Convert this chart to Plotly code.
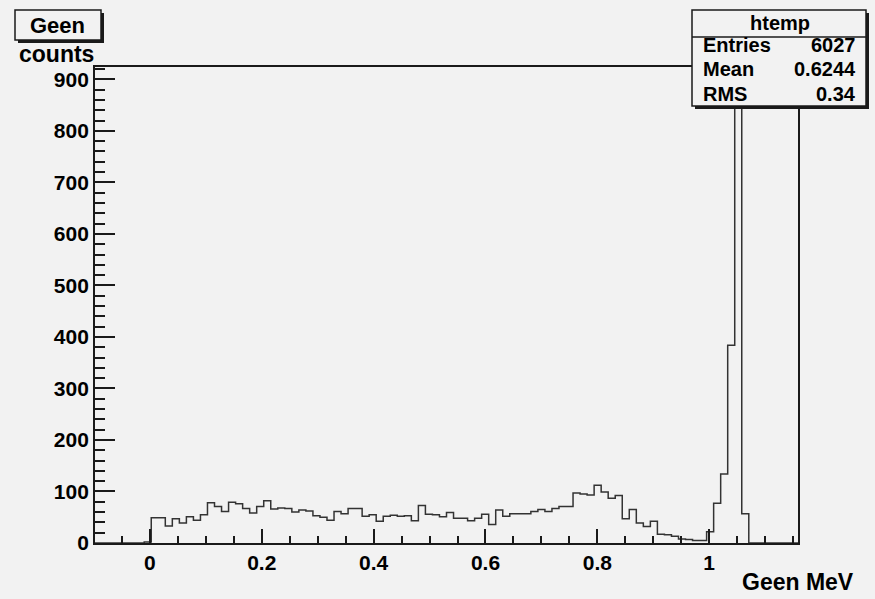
import numpy as np
import plotly.graph_objects as go

# Histogram definition (100 fixed-width bins)
bin_low = -0.0982
bin_high = 1.1588
n_bins = 100

# Bin contents
counts = [
    0, 0, 0, 0, 0, 0, 0, 2, 49, 49,
    33, 47, 39, 51, 44, 55, 78, 71, 61, 79,
    76, 67, 58, 71, 82, 66, 68, 67, 60, 64,
    62, 53, 50, 44, 61, 57, 67, 67, 52, 55,
    42, 52, 54, 52, 53, 43, 73, 56, 55, 51,
    59, 48, 48, 43, 48, 56, 36, 64, 52, 57,
    57, 57, 61, 65, 61, 67, 71, 71, 97, 95,
    93, 112, 99, 87, 92, 47, 65, 39, 32, 42,
    17, 16, 13, 8, 7, 5, 5, 22, 77, 134,
    384, 880, 57, 0, 0, 0, 0, 0, 0, 0,
]

hist_name = "htemp"
stat_labels = ["Entries", "Mean", "RMS"]
stat_values = ["6027", "0.6244", "0.34"]
title_text = "Geen"
x_title = "Geen MeV"
y_title = "counts"
y_max = 924

x_tick_vals = [0, 0.2, 0.4, 0.6, 0.8, 1]
x_tick_text = ["0", "0.2", "0.4", "0.6", "0.8", "1"]
y_tick_vals = [0, 100, 200, 300, 400, 500, 600, 700, 800, 900]

W, H = 875, 599
L, R, T, B = 95, 798, 67, 543
BG = "#f2f2f2"
INK = "#1a1a1a"
FONT = "Liberation Sans"


def fx(px):
    return (px - L) / (R - L)


def fy(py):
    return (B - py) / (B - T)


edges = np.linspace(bin_low, bin_high, n_bins + 1)
step_y = list(counts) + [counts[-1]]

fig = go.Figure()
fig.add_trace(go.Scatter(
    x=edges, y=step_y, mode="lines", line_shape="hv",
    line=dict(color="#333333", width=1.5), hoverinfo="skip", showlegend=False,
))

shapes = []


def boxed(x0, y0, x1, y1, shadow=3):
    shapes.append(dict(type="rect", xref="paper", yref="paper",
                       x0=fx(x0 + shadow), x1=fx(x1 + shadow),
                       y0=fy(y0 + shadow), y1=fy(y1 + shadow),
                       fillcolor=INK, line=dict(width=0), layer="above"))
    shapes.append(dict(type="rect", xref="paper", yref="paper",
                       x0=fx(x0), x1=fx(x1), y0=fy(y0), y1=fy(y1),
                       fillcolor=BG, line=dict(color=INK, width=1.5), layer="above"))


# statistics box
boxed(692, 10, 866, 106)
shapes.append(dict(type="line", xref="paper", yref="paper",
                   x0=fx(692), x1=fx(866), y0=fy(37), y1=fy(37),
                   line=dict(color=INK, width=1.5), layer="above"))
# title box
boxed(15, 10, 101, 40)

annotations = []


def label(text, px, py, anchor="center", size=19):
    annotations.append(dict(text=text, xref="paper", yref="paper",
                            x=fx(px), y=fy(py), xanchor=anchor, yanchor="middle",
                            showarrow=False,
                            font=dict(family=FONT, size=size, color="black", weight="bold")))


label(hist_name, 780, 23, size=20)
for i, (name, val) in enumerate(zip(stat_labels, stat_values)):
    yy = 45 + i * 24.5
    label(name, 701, yy, "left", size=20)
    label(val, 858, yy, "right", size=20)
label(title_text, 57, 25, size=22)
label(y_title, 56, 54, size=23)
label(x_title, 856, 582, "right", size=23)

fig.update_layout(
    width=W, height=H,
    margin=dict(l=L, r=W - R, t=T, b=H - B),
    paper_bgcolor=BG, plot_bgcolor=BG,
    showlegend=False,
    shapes=shapes, annotations=annotations,
    xaxis=dict(
        range=[bin_low, bin_high], showgrid=False, zeroline=False,
        showline=True, mirror=True, linecolor=INK, linewidth=1.8,
        tickmode="array", tickvals=x_tick_vals, ticktext=x_tick_text,
        ticks="inside", ticklen=14, tickwidth=1.5, tickcolor=INK,
        minor=dict(ticks="inside", ticklen=7, tickwidth=1.5, tickcolor=INK,
                   tick0=0, dtick=0.05, showgrid=False),
        tickfont=dict(family=FONT, size=21, color="black", weight="bold"),
    ),
    yaxis=dict(
        range=[0, y_max], showgrid=False, zeroline=False,
        showline=True, mirror=True, linecolor=INK, linewidth=1.8,
        tickmode="array", tickvals=y_tick_vals,
        ticks="inside", ticklen=20, tickwidth=1.5, tickcolor=INK,
        minor=dict(ticks="inside", ticklen=10, tickwidth=1.5, tickcolor=INK,
                   tick0=0, dtick=20, showgrid=False),
        tickfont=dict(family=FONT, size=21, color="black", weight="bold"),
    ),
)

fig.write_html("out.html")
